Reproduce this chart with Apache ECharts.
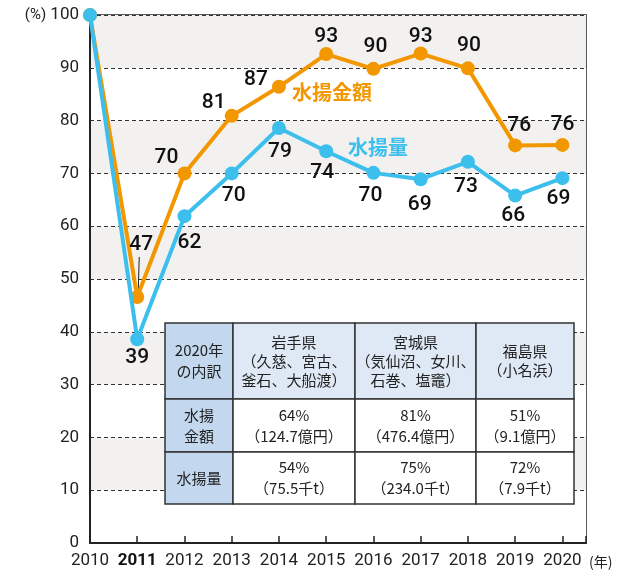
<!DOCTYPE html>
<html>
<head>
<meta charset="utf-8">
<script src="https://cdn.jsdelivr.net/npm/echarts@6/dist/echarts.min.js"></script>
<style>
  html, body { margin: 0; padding: 0; background: #fff; }
  #chart { width: 630px; height: 573px; }
</style>
</head>
<body>
<div id="chart"></div>
<script>
// 年
const years = [2010, 2011, 2012, 2013, 2014, 2015, 2016, 2017, 2018, 2019, 2020]
// 水揚金額（被災前=100）
const amountValues = [100, 46.6, 70, 80.9, 86.4, 92.6, 89.8, 92.7, 89.9, 75.3, 75.4]
const amountLabels = [null, 47, 70, 81, 87, 93, 90, 93, 90, 76, 76]
// 水揚量（被災前=100）
const volumeValues = [100, 38.6, 61.9, 70, 78.6, 74.2, 70.1, 68.9, 72.2, 65.8, 69.1]
const volumeLabels = [null, 39, 62, 70, 79, 74, 70, 69, 73, 66, 69]
// 2020年の内訳
const tableRows = [
  ['2020年\nの内訳', '岩手県\n（久慈、宮古、\n釜石、大船渡）', '宮城県\n（気仙沼、女川、\n石巻、塩竈）', '福島県\n（小名浜）'],
  ['水揚\n金額', '64%\n（124.7億円）', '81%\n（476.4億円）', '51%\n（9.1億円）'],
  ['水揚量', '54%\n（75.5千t）', '75%\n（234.0千t）', '72%\n（7.9千t）']
]

const ORANGE = '#f39700'
const BLUE = '#3dbfee'
const NUM_FONT = 'Roboto'
const JP_FONT = '"Noto Sans CJK JP"'

// ラベル位置（点からのずれ）
const amountOffsets = [[0, 0], [4, -52], [-18, -16], [-18, -13], [-23, -7], [0, -17], [2, -22], [0, -17], [1, -23], [4, -20], [0, -20]]
const volumeOffsets = [[0, 0], [0, 19], [5, 27], [2, 22], [1, 24], [-4, 22], [-3, 23], [-1, 26], [-2, 25], [-2, 20], [-4, 21]]

function buildData(values, labels, offsets) {
  return years.map((y, i) => ({
    value: [y, values[i]],
    label: labels[i] == null
      ? { show: false }
      : { show: true, position: 'inside', offset: offsets[i], formatter: String(labels[i]) }
  }))
}

// 表の描画
function buildTable() {
  const colX = [165, 233, 355, 476, 574]
  const rowY = [323, 399, 452, 504]
  const els = []
  tableRows.forEach((row, r) => {
    row.forEach((txt, c) => {
      let fill = '#ffffff'
      if (c === 0) fill = '#c3d7ee'
      else if (r === 0) fill = '#dfe9f6'
      els.push({
        type: 'rect',
        shape: { x: colX[c], y: rowY[r], width: colX[c + 1] - colX[c], height: rowY[r + 1] - rowY[r] },
        style: { fill: fill, stroke: '#333', lineWidth: 1.5 },
        z: 100
      })
      els.push({
        type: 'text',
        style: {
          text: txt,
          x: (colX[c] + colX[c + 1]) / 2,
          y: (rowY[r] + rowY[r + 1]) / 2,
          align: 'center',
          verticalAlign: 'middle',
          fontSize: 15,
          fontFamily: JP_FONT,
          lineHeight: r === 0 && c > 0 ? 19 : 21,
          fill: '#222'
        },
        z: 101
      })
    })
  })
  return els
}

const chart = echarts.init(document.getElementById('chart'))

const option = {
  animation: false,
  grid: {
    left: 90,
    right: 44,
    top: 15,
    bottom: 30,
    show: true,
    borderColor: '#222',
    borderWidth: 1.5
  },
  xAxis: {
    type: 'value',
    min: 2010,
    max: 2020.5,
    interval: 1,
    splitLine: { show: false },
    axisLine: { show: true, lineStyle: { color: '#222', width: 2 } },
    axisTick: { show: true, inside: true, length: 7, lineStyle: { color: '#222', width: 1.5 } },
    axisLabel: {
      margin: 9,
      fontSize: 17,
      fontFamily: NUM_FONT,
      color: '#222',
      formatter: v => v === 2011 ? '{b|2011}' : (Number.isInteger(v) ? String(v) : ''),
      rich: { b: { fontSize: 17, fontFamily: NUM_FONT, fontWeight: 'bold', color: '#111' } }
    }
  },
  yAxis: {
    type: 'value',
    min: 0,
    max: 100,
    interval: 10,
    axisLine: { show: true, lineStyle: { color: '#222', width: 2 } },
    axisTick: { show: false },
    axisLabel: {
      margin: 11,
      fontSize: 17,
      fontFamily: NUM_FONT,
      color: '#222',
      formatter: v => v === 100 ? '{u|(%)} 100' : String(v),
      rich: { u: { fontSize: 15, fontFamily: NUM_FONT, color: '#222' } }
    },
    splitLine: { show: true, lineStyle: { color: '#333', width: 1, type: [4, 3] } },
    splitArea: { show: true, areaStyle: { color: ['#ffffff', '#f2f1ef'] } }
  },
  series: [
    {
      name: '水揚金額',
      type: 'line',
      data: buildData(amountValues, amountLabels, amountOffsets),
      symbol: 'circle',
      symbolSize: 14,
      lineStyle: { color: ORANGE, width: 4 },
      itemStyle: { color: ORANGE },
      label: { color: '#111', fontSize: 21, fontFamily: NUM_FONT, fontWeight: 500 },
      z: 3
    },
    {
      name: '水揚量',
      type: 'line',
      data: buildData(volumeValues, volumeLabels, volumeOffsets),
      symbol: 'circle',
      symbolSize: 14,
      lineStyle: { color: BLUE, width: 4 },
      itemStyle: { color: BLUE },
      label: { color: '#111', fontSize: 21, fontFamily: NUM_FONT, fontWeight: 500 },
      z: 4
    }
  ]
}
chart.setOption(option)

// 引出線・系列名・表など
const p47 = chart.convertToPixel({ gridIndex: 0 }, [2011, amountValues[1]])
chart.setOption({
  graphic: [
    {
      type: 'line',
      shape: { x1: p47[0] + 1, y1: p47[1] - 6, x2: p47[0] + 2, y2: p47[1] - 40 },
      style: { stroke: '#222', lineWidth: 1 },
      z: 2
    },
    {
      type: 'text',
      style: { text: '水揚金額', x: 292, y: 92, verticalAlign: 'middle', fontSize: 20, fontWeight: 'bold', fontFamily: JP_FONT, fill: ORANGE }
    },
    {
      type: 'text',
      style: { text: '水揚量', x: 348, y: 147, verticalAlign: 'middle', fontSize: 20, fontWeight: 'bold', fontFamily: JP_FONT, fill: BLUE }
    },
    {
      type: 'text',
      style: { text: '(年)', x: 589, y: 562, verticalAlign: 'middle', fontSize: 14, fontFamily: JP_FONT, fill: '#222' }
    }
  ].concat(buildTable())
})
</script>
</body>
</html>
